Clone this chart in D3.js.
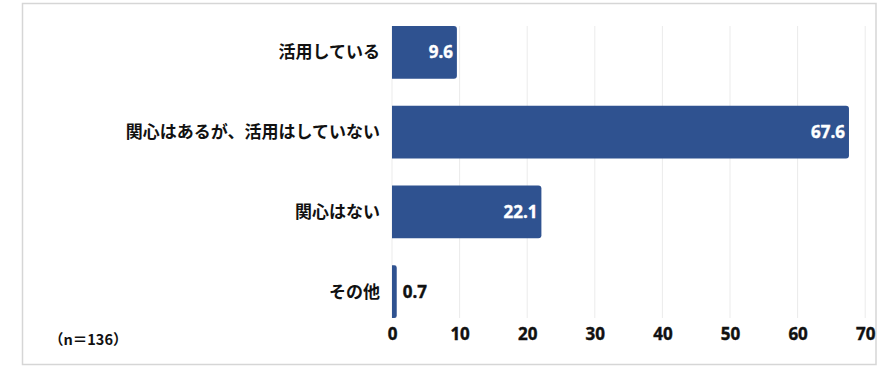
<!DOCTYPE html>
<html><head><meta charset="utf-8">
<script src="https://cdn.jsdelivr.net/npm/d3@7"></script>
<style>
html,body{margin:0;padding:0;background:#fff;}
svg{display:block;}
</style></head>
<body>
<svg id="chart" width="888" height="370"></svg>
<script>
const categories = ["活用している", "関心はあるが、活用はしていない", "関心はない", "その他"];
const values = [9.6, 67.6, 22.1, 0.7];
const tickValues = [0, 10, 20, 30, 40, 50, 60, 70];
const sampleNote = "（n＝136）";

const svg = d3.select("#chart");
const barColor = "#2F5290";
const jpFont = "'Noto Sans CJK JP', 'Noto Sans', sans-serif";
const numFont = "'Noto Sans', 'Open Sans', sans-serif";

// frame
svg.append("rect")
  .attr("x", 22.5).attr("y", 3.5).attr("width", 853.5).attr("height", 361)
  .attr("fill", "#fff").attr("stroke", "#d6d6d6").attr("stroke-width", 1.5);

const x = d3.scaleLinear().domain([0, 70]).range([392, 865.2]);
const y = d3.scaleBand().domain(categories).range([12.4, 331.6])
  .paddingInner(0.34).paddingOuter(0.17);

const gridTop = y(categories[0]);
const gridBottom = y(categories[categories.length - 1]) + y.bandwidth();

// gridlines
svg.append("g").selectAll("line").data(tickValues).join("line")
  .attr("x1", d => x(d)).attr("x2", d => x(d))
  .attr("y1", gridTop).attr("y2", gridBottom)
  .attr("stroke", "#ebebeb").attr("stroke-width", 1);

// bars with rounded right corners
function barPath(x0, x1, y0, h) {
  const w = x1 - x0;
  const r = Math.min(3, w / 2, h / 2);
  return `M${x0},${y0}H${x1 - r}Q${x1},${y0} ${x1},${y0 + r}V${y0 + h - r}Q${x1},${y0 + h} ${x1 - r},${y0 + h}H${x0}Z`;
}
svg.append("g").selectAll("path").data(categories).join("path")
  .attr("d", (c, i) => barPath(x(0), x(values[i]), y(c), y.bandwidth()))
  .attr("fill", barColor);

// category labels
svg.append("g").selectAll("text").data(categories).join("text")
  .attr("x", 380).attr("y", c => y(c) + y.bandwidth() / 2)
  .attr("dy", "0.35em")
  .attr("text-anchor", "end")
  .attr("font-family", jpFont).attr("font-weight", "bold")
  .attr("font-size", "17px").attr("fill", "#111")
  .text(c => c);

// value labels
svg.append("g").selectAll("text").data(categories).join("text")
  .each(function (c, i) {
    const v = values[i];
    const inside = v > 5;
    d3.select(this)
      .attr("x", inside ? x(v) - 4 : x(v) + 6)
      .attr("text-anchor", inside ? "end" : "start")
      .attr("fill", inside ? "#fff" : "#111");
  })
  .attr("y", c => y(c) + y.bandwidth() / 2)
  .attr("dy", "0.36em")
  .attr("font-family", numFont).attr("font-weight", "bold")
  .attr("font-size", "17px")
  .attr("stroke", function () { return d3.select(this).attr("fill"); })
  .attr("stroke-width", 0.4)
  .text((c, i) => values[i].toFixed(1));

// x axis
const axis = svg.append("g").attr("transform", `translate(0,${gridBottom})`)
  .call(d3.axisBottom(x).tickValues(tickValues).tickSize(0).tickPadding(10).tickFormat(d3.format("d")));
axis.select(".domain").remove();
axis.selectAll("text")
  .attr("font-family", numFont).attr("font-weight", "bold")
  .attr("font-size", "17px").attr("fill", "#111")
  .attr("stroke", "#111").attr("stroke-width", 0.4);

// sample note
svg.append("text")
  .attr("x", 49).attr("y", 340).attr("dy", "0.35em")
  .attr("font-family", jpFont).attr("font-weight", "bold")
  .attr("font-size", "14.5px").attr("fill", "#111")
  .text(sampleNote);
</script>
</body></html>
